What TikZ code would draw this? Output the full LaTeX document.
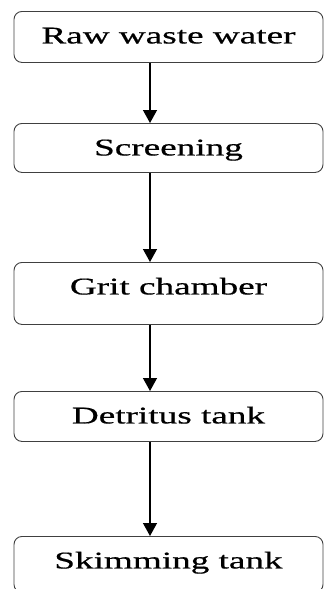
\documentclass[tikz,border=0pt]{standalone}
\usepackage{fontspec}
\setmainfont{Liberation Serif}[FakeStretch=1.55,FakeBold=0.6]
\usepackage{tikz}
\usetikzlibrary{shapes,arrows.meta}
\tikzset{stage/.style={draw=black!75, line width=0.9pt, rounded corners=8pt, anchor=north, minimum width=309pt, inner xsep=0pt, inner ysep=0pt, text height=32pt, font=\fontsize{24}{28}\selectfont}}
\newcommand{\stagenode}[4] {\node at (#1) (#2) [stage, text depth=#3] {#4};}
\newcommand{\stageflow}[2] {\draw [line width=1.3pt, -{Triangle[width=14pt,length=13pt]}] ([xshift=-18.5pt]#1.south) -- ([xshift=-18.5pt]#2.north);}

\begin{document}
\begin{tikzpicture}

\useasboundingbox (0,0) rectangle (324pt,-589pt);

\stagenode {168.5pt,-11pt}{raw}{19pt}{Raw waste water};
\stagenode {168.5pt,-123pt}{screen}{17pt}{Screening};
\stagenode {168.5pt,-262pt}{grit}{30pt}{Grit chamber};
\stagenode {168.5pt,-391pt}{detritus}{18pt}{Detritus tank};
\stagenode {168.5pt,-536pt}{skim}{24pt}{Skimming tank};

\stageflow{raw}{screen};
\stageflow{screen}{grit};
\stageflow{grit}{detritus};
\stageflow{detritus}{skim};

\end{tikzpicture}
\end{document}
